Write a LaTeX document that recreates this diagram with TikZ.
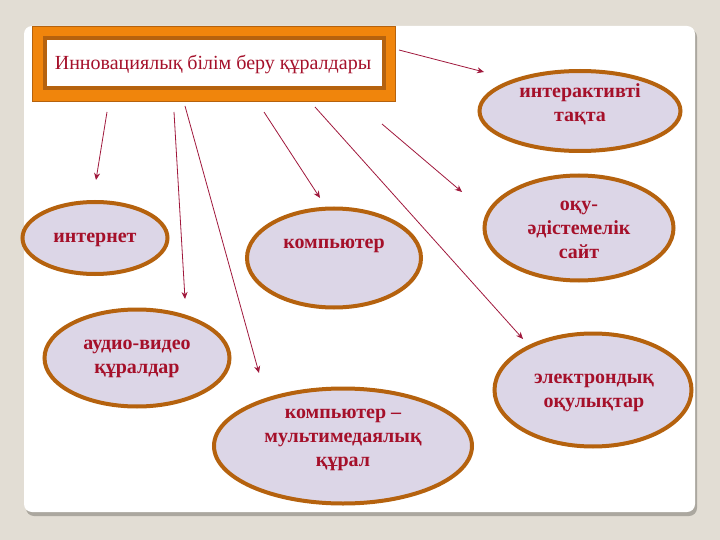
\documentclass[tikz,border=0pt]{standalone}
\usepackage{fontspec}
\setmainfont{Liberation Serif}
\usetikzlibrary{shapes.geometric,arrows.meta}
\definecolor{bg}{HTML}{E2DDD4}
\definecolor{shadowc}{HTML}{ABA79F}
\definecolor{orangef}{HTML}{F0850C}
\definecolor{brownb}{HTML}{B5620E}
\definecolor{lav}{HTML}{DCD6E7}
\definecolor{txt}{HTML}{A5102A}
\definecolor{arr}{HTML}{A0183C}
\begin{document}
\begin{tikzpicture}[x=1pt,y=-1pt,
  bubble/.style={ellipse,draw=brownb,line width=4pt,fill=lav,inner sep=0pt},
  lbl/.style={text=txt,font=\fontsize{20}{24}\selectfont\bfseries,align=center,inner sep=0pt},
  conn/.style={draw=arr,line width=0.8pt,-{Stealth[length=7pt,width=6pt]}}]
\useasboundingbox (0,0) rectangle (720,540);
\fill[bg] (0,0) rectangle (720,540);
\fill[shadowc,rounded corners=8pt] (26,29) rectangle (697,516);
\fill[white,rounded corners=8pt] (24,26) rectangle (695,512);
% title box
\node (tframe) [rectangle,draw=brownb,line width=1pt,fill=orangef,minimum width=363pt,minimum height=75pt,inner sep=0pt] at (214,64) {};
\node (tinner) [rectangle,draw=brownb,line width=4pt,fill=white,minimum width=339pt,minimum height=50pt,inner sep=0pt] at (214,63) {};
\node (title) [text=txt,font=\fontsize{20}{24}\selectfont,inner sep=0pt] at (213,65) {Инновациялық білім беру құралдары};
% ellipses
\node (interact) [bubble,minimum width=201pt,minimum height=80pt] at (580,111) {};
\node [lbl] at (580,104) {интерактивті\\тақта};
\node (sait) [bubble,minimum width=189pt,minimum height=105pt] at (579,228) {};
\node [lbl] at (579,230) {оқу-\\әдістемелік\\сайт};
\node (elec) [bubble,minimum width=197pt,minimum height=113pt] at (593,390) {};
\node [lbl] at (594,393) {электрондық\\оқулықтар};
\node (internet) [bubble,minimum width=145pt,minimum height=72pt] at (95,238) {};
\node [lbl] at (95,240) {интернет};
\node (audio) [bubble,minimum width=185pt,minimum height=97pt] at (137,358) {};
\node [lbl] at (137,359) {аудио-видео\\құралдар};
\node (komp) [bubble,minimum width=174pt,minimum height=99pt] at (334,258) {};
\node [lbl] at (334,246) {компьютер};
\node (multi) [bubble,minimum width=258pt,minimum height=115pt] at (343,446) {};
\node [lbl] at (343,440) {компьютер –\\мультимедаялық\\құрал};
% connector end points
\coordinate (s1) at (399,50);  \coordinate (e1) at (484,72);
\coordinate (s2) at (107,112); \coordinate (e2) at (96,180);
\coordinate (s3) at (174,112); \coordinate (e3) at (185,299);
\coordinate (s4) at (185,106); \coordinate (e4) at (259,373);
\coordinate (s5) at (264,112); \coordinate (e5) at (320,198);
\coordinate (s6) at (315,107); \coordinate (e6) at (523,339);
\coordinate (s7) at (382,124); \coordinate (e7) at (462,192);
\draw[conn] (s1) -- (e1);
\draw[conn] (s2) -- (e2);
\draw[conn] (s3) -- (e3);
\draw[conn] (s4) -- (e4);
\draw[conn] (s5) -- (e5);
\draw[conn] (s6) -- (e6);
\draw[conn] (s7) -- (e7);
\end{tikzpicture}
\end{document}
